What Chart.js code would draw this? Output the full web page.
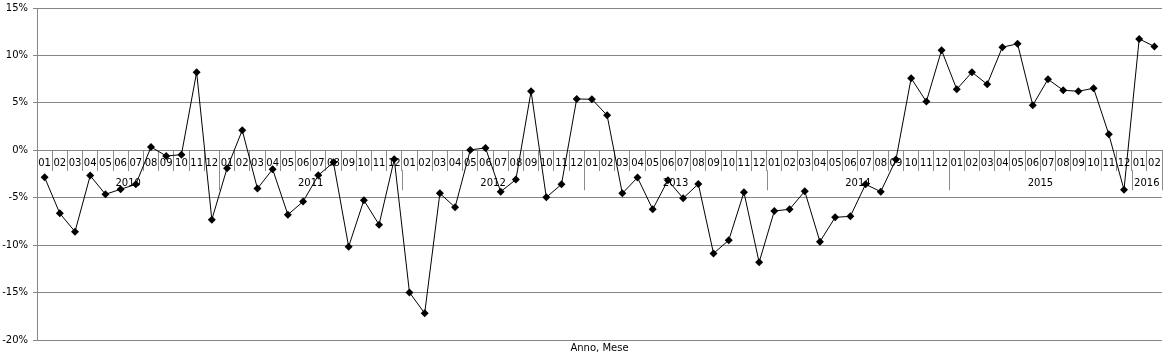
<!DOCTYPE html>
<html><head><meta charset="utf-8">
<script src="https://cdn.jsdelivr.net/npm/chart.js@4/dist/chart.umd.min.js"></script>
<style>html,body{margin:0;padding:0;background:#fff}#wrap{width:1168px;height:356px}</style>
</head><body><div id="wrap"><canvas id="c" width="1168" height="356"></canvas></div>
<script>
const years = ['2010','2011','2012','2013','2014','2015','2016'];
const monthsPerYear = [12,12,12,12,12,12,2];
const monthNames = ['01','02','03','04','05','06','07','08','09','10','11','12'];
const values2010 = [-2.85,-6.65,-8.58,-2.67,-4.64,-4.11,-3.59,0.35,-0.60,-0.46,8.23,-7.31];
const values2011 = [-1.90,2.11,-4.04,-2.00,-6.79,-5.41,-2.64,-1.27,-10.16,-5.27,-7.84,-0.95];
const values2012 = [-14.98,-17.19,-4.54,-6.01,0.04,0.25,-4.36,-3.09,6.22,-4.96,-3.59,5.41];
const values2013 = [5.38,3.69,-4.54,-2.88,-6.22,-3.16,-5.06,-3.55,-10.87,-9.49,-4.43,-11.81];
const values2014 = [-6.40,-6.22,-4.32,-9.63,-7.07,-6.96,-3.59,-4.36,-0.98,7.60,5.13,10.55];
const values2015 = [6.43,8.23,6.96,10.87,11.22,4.75,7.49,6.33,6.22,6.54,1.69,-4.15];
const values2016 = [11.74,10.94];
const yTicks = [-20,-15,-10,-5,0,5,10,15];

const labels = [];
years.forEach((y,i)=>{ for(let m=0;m<monthsPerYear[i];m++) labels.push(monthNames[m]); });
const values = [].concat(values2010,values2011,values2012,values2013,values2014,values2015,values2016);

const GRID = '#868686';
const SEP = '#8c8c8c';

const yearAxisPlugin = {
  id:'yearAxis',
  afterDraw(chart){
    const xs = chart.scales.x, ys = chart.scales.y, ctx = chart.ctx;
    const y0 = ys.getPixelForValue(0);
    const half = (xs.getPixelForValue(1) - xs.getPixelForValue(0))/2;
    ctx.save();
    ctx.strokeStyle = SEP; ctx.lineWidth = 1;
    ctx.fillStyle = '#000';
    ctx.font = '10px "DejaVu Sans"';
    ctx.textAlign = 'center'; ctx.textBaseline = 'middle';
    let s = 0;
    years.forEach((yr,i)=>{
      const n = monthsPerYear[i];
      const left = xs.getPixelForValue(s) - half;
      const right = xs.getPixelForValue(s+n-1) + half;
      const xr = Math.round(right) + 0.5;
      ctx.beginPath(); ctx.moveTo(xr, y0+20); ctx.lineTo(xr, y0+40); ctx.stroke();
      ctx.fillText(yr, (left+right)/2, y0+33.5);
      s += n;
    });
    ctx.restore();
  }
};

Chart.defaults.font.family = '"DejaVu Sans", Verdana, sans-serif';
Chart.defaults.font.size = 10;
Chart.defaults.color = '#000';

new Chart(document.getElementById('c'), {
  type:'line',
  data:{ labels, datasets:[{
    data: values, borderColor:'#000', borderWidth:1, backgroundColor:'#000',
    pointStyle:'rectRot', pointRadius:4, pointHoverRadius:4, pointBackgroundColor:'#000', pointBorderColor:'#000', pointBorderWidth:0,
    tension:0, fill:false
  }]},
  options:{
    responsive:false, animation:false, devicePixelRatio:1,
    layout:{ padding:{ top:8, right:6, bottom:0, left:0 } },
    plugins:{
      legend:{display:false}, tooltip:{enabled:false},
      title:{ display:true, text:'Anno, Mese', position:'bottom', fullSize:false, color:'#000',
        font:{size:10, weight:'normal'}, padding:{top:2,bottom:2} }
    },
    scales:{
      x:{ type:'category', position:{y:0}, offset:true,
        grid:{ drawOnChartArea:false, drawTicks:true, tickLength:20, tickColor:SEP, offset:true },
        border:{ display:true, color:GRID },
        ticks:{ autoSkip:false, maxRotation:0, minRotation:0, padding:-13, color:'#000' } },
      y:{ min:-20, max:15, afterBuildTicks(axis){ axis.ticks = yTicks.map(v=>({value:v})); },
        afterFit(axis){ axis.width = 37; axis.paddingTop = 0; },
        grid:{ color:GRID, tickLength:4, tickColor:GRID },
        border:{ display:true, color:GRID },
        ticks:{ padding:5, color:'#000', callback:(v)=>v+'%' } }
    }
  },
  plugins:[yearAxisPlugin]
});
</script></body></html>
